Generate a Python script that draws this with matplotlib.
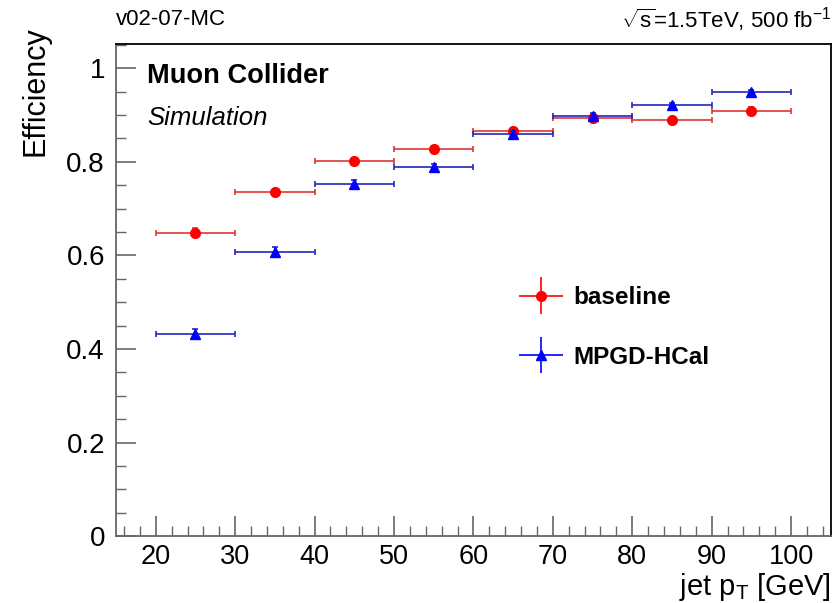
import matplotlib
matplotlib.use("Agg")
import matplotlib.pyplot as plt
from matplotlib.ticker import MultipleLocator
from matplotlib.legend_handler import HandlerErrorbar
import numpy as np

plt.rcParams['font.family'] = ['Liberation Sans', 'DejaVu Sans']
plt.rcParams['mathtext.fontset'] = 'custom'
plt.rcParams['mathtext.rm'] = 'Liberation Sans'
plt.rcParams['mathtext.it'] = 'Liberation Sans:italic'
plt.rcParams['mathtext.bf'] = 'Liberation Sans:bold'

# Data
bin_lo = [20, 30, 40, 50, 60, 70, 80, 90]
bin_hi = [30, 40, 50, 60, 70, 80, 90, 100]
baseline_eff = [0.649, 0.735, 0.802, 0.827, 0.867, 0.893, 0.889, 0.909]
baseline_err = [0.010, 0.007, 0.007, 0.007, 0.006, 0.006, 0.006, 0.009]
mpgd_eff = [0.433, 0.608, 0.753, 0.789, 0.859, 0.899, 0.922, 0.949]
mpgd_err = [0.010, 0.009, 0.008, 0.007, 0.006, 0.005, 0.004, 0.004]

x_lo = np.array(bin_lo, dtype=float)
x_hi = np.array(bin_hi, dtype=float)
xc = (x_lo + x_hi) / 2
xerr = (x_hi - x_lo) / 2

RED = '#ff0000'
BLUE = '#0000ff'

fig = plt.figure(figsize=(8.36, 6.03), dpi=100)
ax = fig.add_axes([0.1388, 0.111, 0.855, 0.816])

ax.errorbar(xc, baseline_eff, xerr=xerr, yerr=baseline_err, fmt='o', color=RED,
            ecolor='#e03535', markersize=7, elinewidth=1.2, capsize=2.5, capthick=1.2, zorder=3)
ax.errorbar(xc, mpgd_eff, xerr=xerr, yerr=mpgd_err, fmt='^', color=BLUE,
            ecolor='#2525c0', markersize=6.5, elinewidth=1.2, capsize=2.5, capthick=1.2, zorder=4)

# legend proxies (no caps, like ROOT legend entries)
p1 = ax.errorbar([np.nan], [np.nan], xerr=[1], yerr=[1], fmt='o', color=RED, ecolor=RED,
                 markersize=7, elinewidth=1.2, capsize=0, label='baseline')
p2 = ax.errorbar([np.nan], [np.nan], xerr=[1], yerr=[1], fmt='^', color=BLUE, ecolor=BLUE,
                 markersize=6.5, elinewidth=1.2, capsize=0, label='MPGD-HCal')

ax.set_xlim(15, 105)
ax.set_ylim(0, 1.052)
ax.xaxis.set_major_locator(MultipleLocator(10))
ax.xaxis.set_minor_locator(MultipleLocator(2))
ax.yaxis.set_major_locator(MultipleLocator(0.2))
ax.yaxis.set_minor_locator(MultipleLocator(0.05))
ax.set_yticks([0, 0.2, 0.4, 0.6, 0.8, 1.0])
ax.set_yticklabels(['0', '0.2', '0.4', '0.6', '0.8', '1'])

ax.tick_params(which='both', direction='in', top=False, right=False, colors='#666666',
               labelcolor='black', labelsize=20, pad=8)
ax.tick_params(axis='x', labelsize=19.5, pad=6)
ax.tick_params(which='major', length=14.5, width=1.2)
ax.tick_params(which='minor', length=7, width=1.0)
for s in ['left', 'bottom']:
    ax.spines[s].set_color('#666666')
    ax.spines[s].set_linewidth(1.3)
for s in ['top', 'right']:
    ax.spines[s].set_color('black')
    ax.spines[s].set_linewidth(1.3)

ax.set_ylabel('Efficiency', fontsize=22, loc='top')
ax.yaxis.set_label_coords(-0.092, 1.036)
ax.set_xlabel(r'jet p$_{\mathrm{T}}$ [GeV]', fontsize=21, loc='right')
ax.xaxis.set_label_coords(1.0, -0.07)

fig.text(0.139, 0.968, 'v02-07-MC', fontsize=16, ha='left', va='center')
fig.text(0.994, 0.968, r'$\sqrt{\mathrm{s}}$=1.5TeV, 500 fb$^{-1}$', fontsize=16,
         ha='right', va='center')

ax.text(0.0435, 0.935, 'Muon Collider', transform=ax.transAxes, fontsize=19.6,
        fontweight='bold', ha='left', va='center')
ax.text(0.0435, 0.85, 'Simulation', transform=ax.transAxes, fontsize=18.5,
        fontstyle='italic', ha='left', va='center')

fs = 17.5
hm = {p1: HandlerErrorbar(xerr_size=0.9, yerr_size=0.75),
      p2: HandlerErrorbar(xerr_size=0.9, yerr_size=0.75)}
ax.legend(handles=[p1, p2], loc='center left', bbox_to_anchor=(0.533, 0.424),
          frameon=False, prop={'weight': 'bold', 'size': fs}, labelspacing=1.5,
          handlelength=1.8, handletextpad=0.45, handler_map=hm, borderpad=0.4)

fig.savefig('out.png', dpi=100)
